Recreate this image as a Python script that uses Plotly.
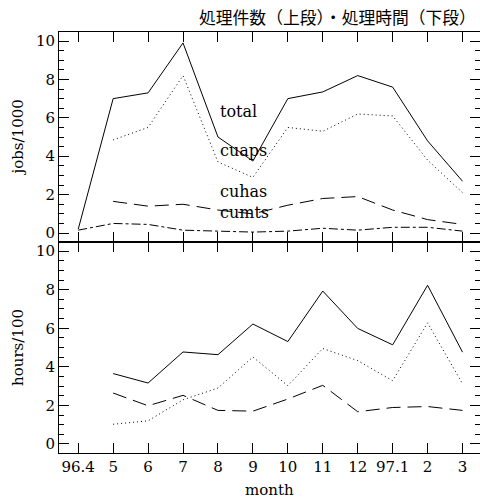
import plotly.graph_objects as go

months = ["96.4", "5", "6", "7", "8", "9", "10", "11", "12", "97.1", "2", "3"]
idx = list(range(len(months)))

# upper panel: jobs/1000
jobs_total = [0.2, 7.0, 7.3, 9.9, 5.0, 3.75, 7.0, 7.35, 8.2, 7.6, 4.8, 2.7]
jobs_cuaps = [None, 4.85, 5.5, 8.2, 3.7, 2.9, 5.5, 5.3, 6.2, 6.1, 3.8, 2.1]
jobs_cuhas = [None, 1.65, 1.4, 1.5, 1.2, 1.0, 1.45, 1.8, 1.9, 1.2, 0.7, 0.45]
jobs_cumts = [0.15, 0.5, 0.45, 0.15, 0.1, 0.05, 0.1, 0.25, 0.15, 0.3, 0.3, 0.1]

# lower panel: hours/100
hours_total = [None, 3.65, 3.16, 4.77, 4.63, 6.22, 5.31, 7.93, 5.99, 5.14, 8.23, 4.76]
hours_cuaps = [None, 1.02, 1.2, 2.29, 2.9, 4.51, 3.02, 4.95, 4.32, 3.28, 6.28, 3.12]
hours_cuhas = [None, 2.64, 1.98, 2.52, 1.74, 1.7, 2.33, 3.04, 1.67, 1.89, 1.94, 1.74]

labels = ["total", "cuaps", "cuhas", "cumts"]
label_y = [6.35, 4.3, 2.15, 1.05]
label_x = 4

FONT = "DejaVu Serif"
fig = go.Figure()

def add(y, dash, yaxis):
    fig.add_trace(go.Scatter(x=idx, y=y, mode="lines", xaxis="x" if yaxis == "y" else "x2",
                             yaxis=yaxis, line=dict(color="black", width=1, dash=dash),
                             connectgaps=False, showlegend=False, hoverinfo="skip"))

add(jobs_total, "solid", "y")
add(jobs_cuaps, "1px,3px", "y")
add(jobs_cuhas, "14px,7px", "y")
add(jobs_cumts, "dashdot", "y")
add(hours_total, "solid", "y2")
add(hours_cuaps, "1px,3px", "y2")
add(hours_cuhas, "14px,7px", "y2")

for t, ly in zip(labels, label_y):
    fig.add_annotation(x=label_x, y=ly, xref="x", yref="y", text=t, showarrow=False,
                       xanchor="left", yanchor="middle", font=dict(family=FONT, size=16, color="black"))

xcommon = dict(range=[-0.55, 11.5], tickvals=idx, ticktext=months, ticks="inside", ticklen=10,
               tickcolor="black", showline=True, linecolor="black", linewidth=1, mirror="allticks",
               showgrid=False, zeroline=False, tickfont=dict(family=FONT, size=15, color="black"))
ycommon = dict(range=[-0.47, 10.47], tickvals=[0, 2, 4, 6, 8, 10], ticks="inside", ticklen=10,
               tickcolor="black", showline=True, linecolor="black", linewidth=1, mirror="allticks",
               showgrid=False, zeroline=False, tickfont=dict(family=FONT, size=15, color="black"),
               minor=dict(dtick=0.5, tick0=0, ticks="inside", ticklen=5, tickcolor="black", showgrid=False))

fig.update_layout(
    width=480, height=498,
    margin=dict(l=59, r=0, t=32, b=45),
    paper_bgcolor="white", plot_bgcolor="white",
    xaxis=dict(xcommon, anchor="y", showticklabels=False),
    yaxis=dict(ycommon, domain=[0.501, 1.0], anchor="x"),
    xaxis2=dict(xcommon, anchor="y2"),
    yaxis2=dict(ycommon, domain=[0.0, 0.501], anchor="x2"),
)

fig.add_annotation(x=-0.097, y=0.75, xref="paper", yref="paper", text="jobs/1000", textangle=-90,
                   showarrow=False, xanchor="center", yanchor="middle",
                   font=dict(family=FONT, size=15, color="black"))
fig.add_annotation(x=-0.097, y=0.25, xref="paper", yref="paper", text="hours/100", textangle=-90,
                   showarrow=False, xanchor="center", yanchor="middle",
                   font=dict(family=FONT, size=15, color="black"))
fig.add_annotation(x=0.5, y=-0.088, xref="paper", yref="paper", text="month",
                   showarrow=False, xanchor="center", yanchor="middle",
                   font=dict(family=FONT, size=15, color="black"))
fig.add_annotation(x=1.0, y=1.0, xref="paper", yref="paper", yshift=15, xshift=-2,
                   text="処理件数（上段）・処理時間（下段）", showarrow=False,
                   xanchor="right", yanchor="middle",
                   font=dict(family="Noto Sans CJK JP", size=16.8, color="black"))

fig.write_html("out.html", config={"displayModeBar": False},
               post_script="document.body.style.margin='0';document.body.style.overflow='hidden';")
